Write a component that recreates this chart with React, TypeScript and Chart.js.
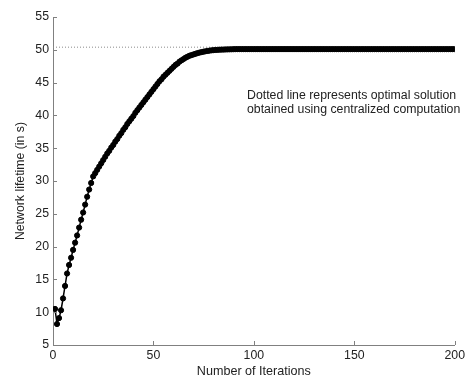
import React, { useEffect, useRef } from "react";
import { Chart, registerables } from "chart.js";

Chart.register(...registerables);

// Network lifetime (in s) for iterations 1..200
const lifetime: number[] = [
  10.5, 8.2, 9.1, 10.3, 12.1, 14.0, 15.9, 17.2, 18.3, 19.5,
  20.6, 21.7, 22.9, 24.1, 25.2, 26.4, 27.6, 28.7, 29.7, 30.7,
  31.2, 31.7, 32.2, 32.7, 33.2, 33.7, 34.2, 34.6, 35.1, 35.5,
  36.0, 36.4, 36.9, 37.3, 37.8, 38.2, 38.7, 39.1, 39.5, 39.9,
  40.4, 40.8, 41.2, 41.6, 42.0, 42.4, 42.8, 43.2, 43.6, 44.0,
  44.4, 44.8, 45.2, 45.5, 45.9, 46.2, 46.5, 46.8, 47.1, 47.4,
  47.7, 47.9, 48.2, 48.4, 48.6, 48.8, 48.95, 49.1, 49.2, 49.3,
  49.4, 49.5, 49.58, 49.65, 49.72, 49.78, 49.83, 49.88, 49.92, 49.95,
  49.98, 50.0, 50.02, 50.03, 50.04, 50.05, 50.06, 50.07, 50.08, 50.09,
  50.1, 50.1, 50.1, 50.1, 50.1, 50.1, 50.1, 50.1, 50.1, 50.1,
  50.1, 50.1, 50.1, 50.1, 50.1, 50.1, 50.1, 50.1, 50.1, 50.1,
  50.1, 50.1, 50.1, 50.1, 50.1, 50.1, 50.1, 50.1, 50.1, 50.1,
  50.1, 50.1, 50.1, 50.1, 50.1, 50.1, 50.1, 50.1, 50.1, 50.1,
  50.1, 50.1, 50.1, 50.1, 50.1, 50.1, 50.1, 50.1, 50.1, 50.1,
  50.1, 50.1, 50.1, 50.1, 50.1, 50.1, 50.1, 50.1, 50.1, 50.1,
  50.1, 50.1, 50.1, 50.1, 50.1, 50.1, 50.1, 50.1, 50.1, 50.1,
  50.1, 50.1, 50.1, 50.1, 50.1, 50.1, 50.1, 50.1, 50.1, 50.1,
  50.1, 50.1, 50.1, 50.1, 50.1, 50.1, 50.1, 50.1, 50.1, 50.1,
  50.1, 50.1, 50.1, 50.1, 50.1, 50.1, 50.1, 50.1, 50.1, 50.1,
  50.1, 50.1, 50.1, 50.1, 50.1, 50.1, 50.1, 50.1, 50.1, 50.1,
];
const iterations: number[] = lifetime.map((_, i) => i + 1);

const optimalValue = 50.4;
const optimalRange: number[] = [0, 200];

const xTicks: number[] = [0, 50, 100, 150, 200];
const yTicks: number[] = [5, 10, 15, 20, 25, 30, 35, 40, 45, 50, 55];

const annotationLines: string[] = [
  "Dotted line represents optimal solution",
  "obtained using centralized computation",
];

const FONT = "'Liberation Sans', Arial, sans-serif";

const extrasPlugin = {
  id: "extras",
  afterDraw(chart: any) {
    const ctx = chart.ctx;
    const xs = chart.scales.x;
    const ys = chart.scales.y;
    const area = chart.chartArea;
    ctx.save();
    ctx.strokeStyle = "#808080";
    ctx.lineWidth = 1;
    xTicks.forEach((t) => {
      const px = Math.round(xs.getPixelForValue(t)) + 0.5;
      ctx.beginPath();
      ctx.moveTo(px, area.bottom);
      ctx.lineTo(px, area.bottom - 4);
      ctx.stroke();
    });
    yTicks.forEach((t) => {
      const py = Math.round(ys.getPixelForValue(t)) + 0.5;
      ctx.beginPath();
      ctx.moveTo(area.left, py);
      ctx.lineTo(area.left + 4, py);
      ctx.stroke();
    });
    ctx.fillStyle = "#222";
    ctx.font = `12.3px ${FONT}`;
    ctx.textAlign = "left";
    ctx.textBaseline = "alphabetic";
    annotationLines.forEach((line, i) => {
      ctx.fillText(line, 247, 99 + i * 14.3);
    });
    ctx.restore();
  },
};

export default function App() {
  const ref = useRef<HTMLCanvasElement | null>(null);

  useEffect(() => {
    if (!ref.current) return;
    const chart = new Chart(ref.current, {
      type: "line",
      data: {
        datasets: [
          {
            label: "Optimal",
            data: optimalRange.map((x) => ({ x, y: optimalValue })),
            borderColor: "#8a8a8a",
            borderWidth: 1,
            borderDash: [1, 2],
            pointRadius: 0,
            order: 2,
          },
          {
            label: "Network lifetime",
            data: iterations.map((x, i) => ({ x, y: lifetime[i] })),
            borderColor: "#000",
            borderWidth: 1.5,
            pointRadius: 2.6,
            pointBorderWidth: 1,
            pointBackgroundColor: "#000",
            pointBorderColor: "#000",
            pointHoverRadius: 2.6,
            tension: 0,
            order: 1,
          },
        ],
      },
      options: {
        responsive: false,
        animation: false,
        events: [],
        layout: { padding: { left: 0, right: 11, top: 17, bottom: 0 } },
        plugins: {
          legend: { display: false },
          tooltip: { enabled: false },
        },
        scales: {
          x: {
            type: "linear",
            min: 0,
            max: 200,
            afterBuildTicks: (s: any) => {
              s.ticks = xTicks.map((v) => ({ value: v }));
            },
            afterFit: (s: any) => {
              s.height = 36;
            },
            grid: { display: true, drawOnChartArea: false, drawTicks: false },
            border: { display: true, color: "#808080", width: 1 },
            ticks: {
              color: "#222",
              font: { family: FONT, size: 12.3 },
              padding: 3,
              maxRotation: 0,
            },
            title: {
              display: true,
              text: "Number of Iterations",
              color: "#222",
              font: { family: FONT, size: 12.6 },
              padding: { top: 0, bottom: 2 },
            },
          },
          y: {
            type: "linear",
            min: 5,
            max: 55,
            afterBuildTicks: (s: any) => {
              s.ticks = yTicks.map((v) => ({ value: v }));
            },
            afterFit: (s: any) => {
              s.width = 53;
            },
            grid: { display: true, drawOnChartArea: false, drawTicks: false },
            border: { display: true, color: "#808080", width: 1 },
            ticks: {
              color: "#222",
              font: { family: FONT, size: 12.3 },
              padding: 4,
            },
            title: {
              display: true,
              text: "Network lifetime (in s)",
              color: "#222",
              font: { family: FONT, size: 12.3 },
              padding: { top: 13, bottom: 0 },
            },
          },
        },
      },
      plugins: [extrasPlugin],
    });
    return () => chart.destroy();
  }, []);

  return (
    <div style={{ position: "absolute", left: 0, top: 0, width: 468, height: 381, background: "#fff" }}>
      <canvas ref={ref} width={468} height={381} />
    </div>
  );
}
